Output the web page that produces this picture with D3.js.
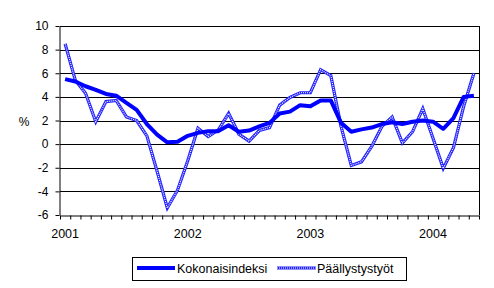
<!DOCTYPE html>
<html>
<head>
<meta charset="utf-8">
<script src="https://cdn.jsdelivr.net/npm/d3@7"></script>
<style>
  body { margin: 0; background: #fff; }
  text { font-family: Arial, "Liberation Sans", sans-serif; }
</style>
</head>
<body>
<script>
// monthly categories, 2001M01 .. 2004M05
const months = [
  '2001M01', '2001M02', '2001M03', '2001M04', '2001M05', '2001M06', '2001M07', '2001M08', '2001M09', '2001M10', '2001M11', '2001M12',
  '2002M01', '2002M02', '2002M03', '2002M04', '2002M05', '2002M06', '2002M07', '2002M08', '2002M09', '2002M10', '2002M11', '2002M12',
  '2003M01', '2003M02', '2003M03', '2003M04', '2003M05', '2003M06', '2003M07', '2003M08', '2003M09', '2003M10', '2003M11', '2003M12',
  '2004M01', '2004M02', '2004M03', '2004M04', '2004M05',
];
const yearLabels = ['2001', '2002', '2003', '2004'];
const yTicks = [-6, -4, -2, 0, 2, 4, 6, 8, 10];

const kokonaisindeksi = [
  5.5, 5.3, 4.9, 4.6, 4.25, 4.1, 3.5, 2.9, 1.7, 0.8, 0.15, 0.2,
  0.7, 0.95, 1.1, 1.1, 1.6, 1.05, 1.15, 1.5, 1.8, 2.6, 2.75, 3.3,
  3.2, 3.7, 3.7, 1.8, 1.05, 1.25, 1.4, 1.7, 1.85, 1.7, 1.9, 2.0,
  1.9, 1.3, 2.2, 4.0, 4.1,
];
const paallystystyot = [
  8.5, 5.4, 4.3, 1.9, 3.6, 3.7, 2.3, 2.0, 0.7, -2.3, -5.4, -3.9,
  -1.4, 1.35, 0.65, 1.2, 2.6, 0.85, 0.25, 1.15, 1.4, 3.3, 3.95, 4.35,
  4.35, 6.3, 5.8, 1.5, -1.8, -1.5, -0.2, 1.5, 2.3, 0.1, 1.05, 3.0,
  0.5, -2.05, -0.3, 3.2, 6.0,
];

const width = 494;
const height = 288;
const plotLeft = 60;
const plotRight = 479;
const plotTop = 26;
const plotBottom = 215;

const svg = d3.select('body').append('svg')
  .attr('width', width)
  .attr('height', height);

const x = d3.scaleLinear().domain([0, months.length]).range([plotLeft, plotRight]);
const y = d3.scaleLinear().domain([-6, 10]).range([plotBottom, plotTop]);
const cx = i => x(i + 0.5);

// gridlines
svg.append('g')
  .selectAll('line')
  .data(yTicks.filter(d => d > -6))
  .enter()
  .append('line')
  .attr('x1', plotLeft)
  .attr('x2', plotRight)
  .attr('y1', d => Math.round(y(d)) + 0.5)
  .attr('y2', d => Math.round(y(d)) + 0.5)
  .attr('stroke', '#000')
  .attr('stroke-width', 1);

// right border
svg.append('line')
  .attr('x1', plotRight + 0.5).attr('x2', plotRight + 0.5)
  .attr('y1', plotTop).attr('y2', plotBottom)
  .attr('stroke', '#000');

// y axis
const yAxis = svg.append('g')
  .attr('transform', `translate(${plotLeft - 0.5},0)`)
  .call(d3.axisLeft(y).tickValues(yTicks).tickSizeInner(4).tickSizeOuter(0)
    .tickPadding(7).tickFormat(d => String(d)));
yAxis.selectAll('text').style('font-size', '12px').attr('fill', '#000');

// x axis with ticks between months
svg.append('g')
  .attr('transform', `translate(0,${Math.round(plotBottom) + 0.5})`)
  .call(d3.axisBottom(x).tickValues(d3.range(0, months.length + 1))
    .tickSizeInner(4).tickSizeOuter(0).tickFormat(''));

// year labels under January
svg.append('g')
  .selectAll('text')
  .data(yearLabels)
  .enter()
  .append('text')
  .attr('x', d => cx(months.indexOf(`${d}M01`)))
  .attr('y', 238)
  .attr('text-anchor', 'middle')
  .style('font-size', '12.5px')
  .text(d => d);

svg.append('text')
  .attr('x', 24)
  .attr('y', 126)
  .attr('text-anchor', 'middle')
  .style('font-size', '12px')
  .text('%');

const line = d3.line()
  .x((d, i) => cx(i))
  .y(d => y(d));

// Päällystystyöt: double line look
svg.append('path')
  .attr('d', line(paallystystyot))
  .attr('fill', 'none')
  .attr('stroke', '#2020ff')
  .attr('stroke-width', 3.2);
svg.append('path')
  .attr('d', line(paallystystyot))
  .attr('fill', 'none')
  .attr('stroke', '#fff')
  .attr('stroke-width', 1.2)
  .attr('stroke-dasharray', '1 1');

// Kokonaisindeksi
svg.append('path')
  .attr('d', line(kokonaisindeksi))
  .attr('fill', 'none')
  .attr('stroke', '#0000ff')
  .attr('stroke-width', 4)
  .attr('stroke-linejoin', 'round');

// legend
const legend = svg.append('g');
legend.append('rect')
  .attr('x', 132.5).attr('y', 257.5)
  .attr('width', 274).attr('height', 23)
  .attr('fill', '#fff')
  .attr('stroke', '#000');
legend.append('line')
  .attr('x1', 137).attr('x2', 175)
  .attr('y1', 268).attr('y2', 268)
  .attr('stroke', '#0000ff').attr('stroke-width', 4);
legend.append('text')
  .attr('x', 177).attr('y', 273)
  .style('font-size', '12.5px')
  .text('Kokonaisindeksi');
legend.append('line')
  .attr('x1', 277).attr('x2', 316)
  .attr('y1', 268).attr('y2', 268)
  .attr('stroke', '#2020ff').attr('stroke-width', 3.2);
legend.append('line')
  .attr('x1', 277).attr('x2', 316)
  .attr('y1', 268).attr('y2', 268)
  .attr('stroke', '#fff').attr('stroke-width', 1.2)
  .attr('stroke-dasharray', '1 1');
legend.append('text')
  .attr('x', 317).attr('y', 273)
  .style('font-size', '12.5px')
  .text('Päällystystyöt');
</script>
</body>
</html>
